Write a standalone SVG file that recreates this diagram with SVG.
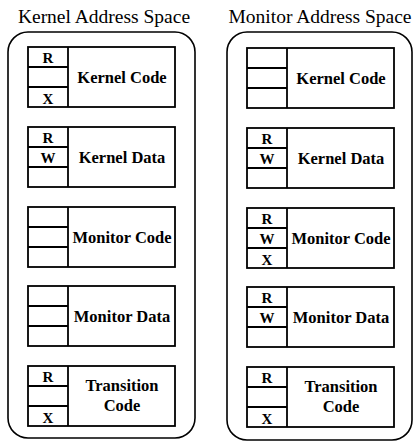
<svg xmlns="http://www.w3.org/2000/svg" width="413" height="441" viewBox="0 0 413 441">
  <style>
    .space { fill: none; stroke: #000; stroke-width: 1.6; }
    .box { fill: #fff; stroke: #000; stroke-width: 1.8; }
    text { fill: #000; text-anchor: middle; }
    .title { font-size: 19.5px; }
    .name { font-size: 16.5px; font-weight: bold; }
    .perm { font-size: 15px; font-weight: bold; }
  </style>
  <defs>
    <!-- a region: permission column of three cells plus a name area -->
    <g id="cells">
      <rect class="box" x="0" y="0" width="147" height="60"/>
      <line class="box" x1="40" y1="0" x2="40" y2="60"/>
      <line class="box" x1="0" y1="20" x2="40" y2="20"/>
      <line class="box" x1="0" y1="40" x2="40" y2="40"/>
    </g>
  </defs>

  <rect fill="#fff" x="0" y="0" width="413" height="441"/>

  <g font-family="Liberation Serif, DejaVu Serif, serif">
  <!-- Kernel address space -->
  <g id="kernel-space">
    <text class="title" x="104" y="23">Kernel Address Space</text>
    <rect class="space" x="8" y="32" width="187" height="406" rx="20" ry="20"/>
  </g>
  <g id="k-kernel-code" transform="translate(28,47)">
    <use href="#cells"/>
    <text class="perm" x="20" y="15.5">R</text>
    <text class="perm" x="20" y="56.5">X</text>
    <text class="name" x="94" y="35.5">Kernel Code</text>
  </g>
  <g id="k-kernel-data" transform="translate(28,127)">
    <use href="#cells"/>
    <text class="perm" x="20" y="15.5">R</text>
    <text class="perm" x="20" y="35.5">W</text>
    <text class="name" x="94" y="35.5">Kernel Data</text>
  </g>
  <g id="k-monitor-code" transform="translate(28,207)">
    <use href="#cells"/>
    <text class="name" x="94" y="35.5">Monitor Code</text>
  </g>
  <g id="k-monitor-data" transform="translate(28,286)">
    <use href="#cells"/>
    <text class="name" x="94" y="35.5">Monitor Data</text>
  </g>
  <g id="k-transition-code" transform="translate(28,366)">
    <use href="#cells"/>
    <text class="perm" x="20" y="15.5">R</text>
    <text class="perm" x="20" y="56.5">X</text>
    <text class="name" x="94" y="25">Transition</text>
    <text class="name" x="94" y="45">Code</text>
  </g>

  <!-- Monitor address space -->
  <g id="monitor-space">
    <text class="title" x="320" y="23">Monitor Address Space</text>
    <rect class="space" x="227" y="32" width="185" height="408" rx="20" ry="20"/>
  </g>
  <g id="m-kernel-code" transform="translate(247,48)">
    <use href="#cells"/>
    <text class="name" x="94" y="35.5">Kernel Code</text>
  </g>
  <g id="m-kernel-data" transform="translate(247,128)">
    <use href="#cells"/>
    <text class="perm" x="20" y="15.5">R</text>
    <text class="perm" x="20" y="35.5">W</text>
    <text class="name" x="94" y="35.5">Kernel Data</text>
  </g>
  <g id="m-monitor-code" transform="translate(247,208)">
    <use href="#cells"/>
    <text class="perm" x="20" y="15.5">R</text>
    <text class="perm" x="20" y="35.5">W</text>
    <text class="perm" x="20" y="56.5">X</text>
    <text class="name" x="94" y="35.5">Monitor Code</text>
  </g>
  <g id="m-monitor-data" transform="translate(247,287)">
    <use href="#cells"/>
    <text class="perm" x="20" y="15.5">R</text>
    <text class="perm" x="20" y="35.5">W</text>
    <text class="name" x="94" y="35.5">Monitor Data</text>
  </g>
  <g id="m-transition-code" transform="translate(247,367)">
    <use href="#cells"/>
    <text class="perm" x="20" y="15.5">R</text>
    <text class="perm" x="20" y="56.5">X</text>
    <text class="name" x="94" y="25">Transition</text>
    <text class="name" x="94" y="45">Code</text>
  </g>
  </g>

  <g id="connectors"/>
</svg>
